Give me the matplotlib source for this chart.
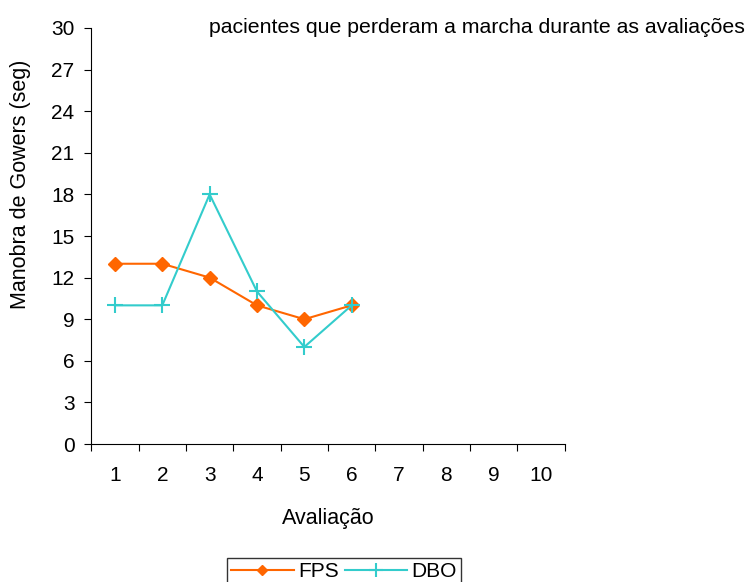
import matplotlib
matplotlib.use("Agg")
import matplotlib.pyplot as plt
import numpy as np

plt.rcParams['font.family'] = ['Liberation Sans', 'DejaVu Sans']

categories = [str(i) for i in range(1, 11)]
fps = [13, 13, 12, 10, 9, 10]
dbo = [10, 10, 18, 11, 7, 10]
y_ticks = [0, 3, 6, 9, 12, 15, 18, 21, 24, 27, 30]

fig = plt.figure(figsize=(7.48, 5.82), dpi=100)
ax = fig.add_axes([0.122, 0.237, 0.633, 0.715])

x_fps = np.arange(len(fps)) + 0.5
x_dbo = np.arange(len(dbo)) + 0.5
ax.plot(x_fps, fps, color='#FF6600', marker='D', markersize=7, lw=1.5, label='FPS')
ax.plot(x_dbo, dbo, color='#33CCCC', marker='+', markersize=12, mew=1.5, lw=1.5, label='DBO')

ax.set_xlim(0, len(categories))
ax.set_ylim(0, 30)
ax.set_yticks(y_ticks)
ax.set_xticks(np.arange(len(categories) + 1))
ax.set_xticklabels([])
ax.set_xticks(np.arange(len(categories)) + 0.5, minor=True)
ax.set_xticklabels(categories, minor=True)
ax.tick_params(axis='x', which='minor', length=0, pad=16, labelsize=15)
ax.tick_params(axis='x', which='major', length=5, direction='out')
ax.tick_params(axis='y', length=5, direction='out', labelsize=15, pad=7)

for s in ['top', 'right']:
    ax.spines[s].set_visible(False)

ax.set_xlabel('Avaliação', fontsize=15.5, labelpad=16)
# y label sits above the axis centre in the original
fig.text(21 / 748, 1 - 184 / 582, 'Manobra de Gowers (seg)', rotation=90,
         ha='center', va='center', fontsize=15.5)

fig.text(0.637, 0.952, 'pacientes que perderam a marcha durante as avaliações',
         ha='center', va='center', fontsize=15.3)

leg = fig.legend(loc='upper center', bbox_to_anchor=(0.46, 1 - 558 / 582), ncol=2,
                 fontsize=15, frameon=True, fancybox=False, edgecolor='black',
                 handlelength=3, columnspacing=0.3, handletextpad=0.2,
                 borderpad=0.2, borderaxespad=0, markerscale=0.8)
leg.get_frame().set_linewidth(1.0)

fig.savefig('out.png', dpi=100)
